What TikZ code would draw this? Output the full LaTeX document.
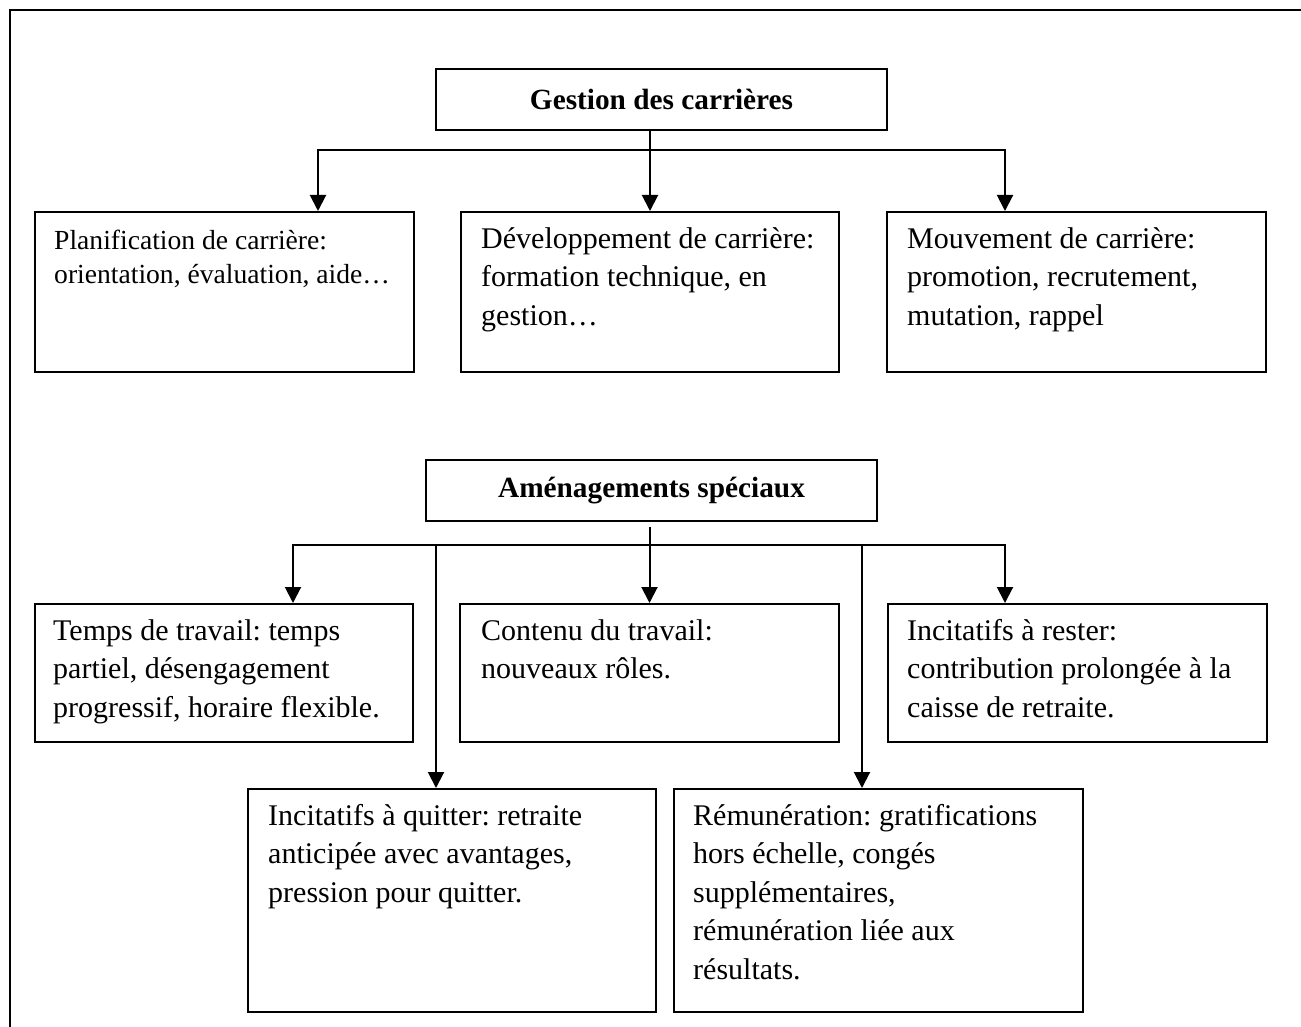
\documentclass[tikz,border=0pt]{standalone}
\usepackage{fontspec}
\setmainfont{Liberation Serif}
\usetikzlibrary{arrows.meta,calc}
\frenchspacing

% body text sizes
\newcommand\txtbig{\fontsize{30}{38.5}\selectfont}
\newcommand\txtsmall{\fontsize{27.6}{34}\selectfont}
\newcommand\txthead{\fontsize{29.3}{35}\selectfont\bfseries}

\tikzset{
  cbox/.style={draw, line width=2pt, anchor=north west, inner sep=0pt},
  headbox/.style={cbox, font=\txthead},
  txt/.style={anchor=north west, inner sep=0pt, align=left, font=\txtbig},
  txtsm/.style={txt, font=\txtsmall},
  link/.style={line width=2pt},
  arr/.style={link, -{Triangle[length=16pt,width=16pt]}},
}

\begin{document}
\begin{tikzpicture}[x=1pt,y=-1pt]
  \useasboundingbox (0,0) rectangle (1301,1027);
  \clip (0,0) rectangle (1301,1027);

  % page frame (top and left edges)
  \draw[line width=2.5pt] (10,1040) -- (10,10) -- (1320,10);

  % ---- career management ----
  \node[headbox, minimum width=451pt, minimum height=61pt] (gestion) at (435,68) {Gestion des carrières};

  \node[cbox, minimum width=379pt, minimum height=160pt] (p1) at (34,211) {};
  \node[cbox, minimum width=378pt, minimum height=160pt] (p2) at (460,211) {};
  \node[cbox, minimum width=379pt, minimum height=160pt] (p3) at (886,211) {};

  \node[txtsm] (p1t) at ($(p1.north west)+(20,14)$) {\strut Planification de carrière:\\ orientation, évaluation, aide…};
  \node[txt] (p2t) at ($(p2.north west)+(21,10)$) {\strut Développement de carrière:\\ formation technique, en\\ gestion…};
  \node[txt] (p3t) at ($(p3.north west)+(21,10)$) {\strut Mouvement de carrière:\\ promotion, recrutement,\\ mutation, rappel};

  \coordinate (gL) at (318,150);
  \coordinate (gR) at (1005,150);
  \coordinate (gM) at (gestion.south -| p2.north);
  \draw[arr] (gM) -- (p2.north);
  \draw[arr] (gM |- gL) -- (gL) -- (gL |- p1.north);
  \draw[arr] (gM |- gR) -- (gR) -- (gR |- p3.north);

  % ---- special arrangements ----
  \node[headbox, minimum width=451pt, minimum height=61pt] (amen) at (425,459) {Aménagements spéciaux};

  \node[cbox, minimum width=378pt, minimum height=138pt] (t1) at (34,603) {};
  \node[cbox, minimum width=379pt, minimum height=138pt] (t2) at (459,603) {};
  \node[cbox, minimum width=379pt, minimum height=138pt] (t3) at (887,603) {};
  \node[cbox, minimum width=408pt, minimum height=223pt] (q) at (247,788) {};
  \node[cbox, minimum width=409pt, minimum height=223pt] (r) at (673,788) {};

  \node[txt] (t1t) at ($(t1.north west)+(19,10)$) {\strut Temps de travail: temps\\ partiel, désengagement\\ progressif, horaire flexible.};
  \node[txt] (t2t) at ($(t2.north west)+(22,10)$) {\strut Contenu du travail:\\ nouveaux rôles.};
  \node[txt] (t3t) at ($(t3.north west)+(20,10)$) {\strut Incitatifs à rester:\\ contribution prolongée à la\\ caisse de retraite.};
  \node[txt] (qt) at ($(q.north west)+(21,10)$) {\strut Incitatifs à quitter: retraite\\ anticipée avec avantages,\\ pression pour quitter.};
  \node[txt] (rt) at ($(r.north west)+(20,10)$) {\strut Rémunération: gratifications\\ hors échelle, congés\\ supplémentaires,\\ rémunération liée aux\\ résultats.};

  \coordinate (aL) at (293,545);
  \coordinate (aR) at (1005,545);
  \coordinate (aQ) at (436,545);
  \coordinate (aRem) at (862,545);
  \coordinate (aTop) at ($(amen.south -| t2.north)+(0,5)$);
  \draw[arr] (aTop) -- (t2.north);
  \draw[arr] (aTop |- aL) -- (aL) -- (aL |- t1.north);
  \draw[arr] (aTop |- aR) -- (aR) -- (aR |- t3.north);
  \draw[arr] (aQ) -- (aQ |- q.north);
  \draw[arr] (aRem) -- (aRem |- r.north);
\end{tikzpicture}
\end{document}
